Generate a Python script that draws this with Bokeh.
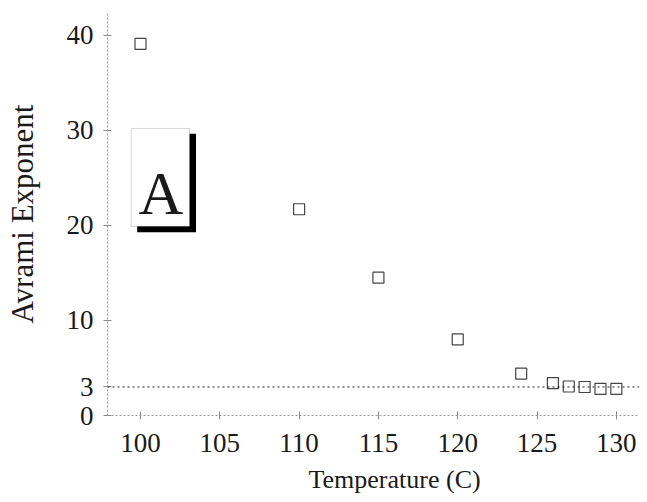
from bokeh.plotting import figure
from bokeh.models import Range1d, FixedTicker, Span, BoxAnnotation, Label, ColumnDataSource, Title
from bokeh.embed import file_html
from bokeh.resources import INLINE

# Data
temperature = [100, 110, 115, 120, 124, 126, 127, 128, 129, 130]
avrami_n = [39.1, 21.7, 14.5, 8.0, 4.4, 3.4, 3.05, 3.0, 2.8, 2.8]
x_ticks = [100, 105, 110, 115, 120, 125, 130]
y_ticks = [0, 3, 10, 20, 30, 40]
ref_line = 3

FONT = "Liberation Serif"
TXT = "#1a1a1a"

p = figure(width=645, height=502, output_backend="svg", toolbar_location=None,
           x_range=Range1d(97.92, 131.46), y_range=Range1d(0, 42.4),
           min_border_left=107, min_border_right=6, min_border_top=12, min_border_bottom=87)
p.outline_line_color = None
p.xgrid.visible = False
p.ygrid.visible = False
p.background_fill_color = "white"

for ax in (p.xaxis[0], p.yaxis[0]):
    ax.axis_line_color = "#9a9a9a"
    ax.axis_line_dash = "2 2"
    ax.major_tick_line_color = "#8a8a8a"
    ax.major_tick_in = 4
    ax.major_tick_out = 4
    ax.minor_tick_line_color = None
    ax.major_label_text_font = FONT
    ax.major_label_text_font_size = "27px"
    ax.major_label_text_color = TXT
    ax.axis_label_text_font = FONT
    ax.axis_label_text_font_style = "normal"
    ax.axis_label_text_color = TXT

p.xaxis.ticker = FixedTicker(ticks=x_ticks)
p.yaxis.ticker = FixedTicker(ticks=y_ticks)
p.xaxis.major_label_standoff = 14
p.yaxis.major_label_standoff = 10
p.yaxis.axis_label = "Avrami Exponent"
p.yaxis.axis_label_text_font_size = "31px"
p.yaxis.axis_label_standoff = 24

# x-axis title placed below the axis
p.add_layout(Title(text="Temperature (C)", text_font=FONT, text_font_size="26px",
                   text_color=TXT, text_font_style="normal", align="left",
                   offset=201, standoff=17), "below")

# dotted reference line at n = 3
p.add_layout(Span(location=ref_line, dimension="width", line_color="#222222",
                  line_dash="2 3", line_width=1))

src = ColumnDataSource(dict(x=temperature, y=avrami_n))
p.scatter("x", "y", source=src, marker="square", size=11, fill_color="white",
          line_color="#444444", line_width=1.2)

# "A" panel label with drop shadow
p.add_layout(BoxAnnotation(left=99.79, right=103.5, top=29.65, bottom=19.27,
                           fill_color="black", fill_alpha=1, line_color=None))
p.add_layout(BoxAnnotation(left=99.41, right=103.09, top=30.2, bottom=19.9,
                           fill_color="white", fill_alpha=1, line_color="#777777",
                           line_width=1))
p.add_layout(Label(x=101.29, y=23.37, text="A", text_font=FONT, text_font_size="62px",
                   text_color=TXT, text_align="center", text_baseline="alphabetic"))

open("out.html", "w").write(file_html(p, INLINE))
